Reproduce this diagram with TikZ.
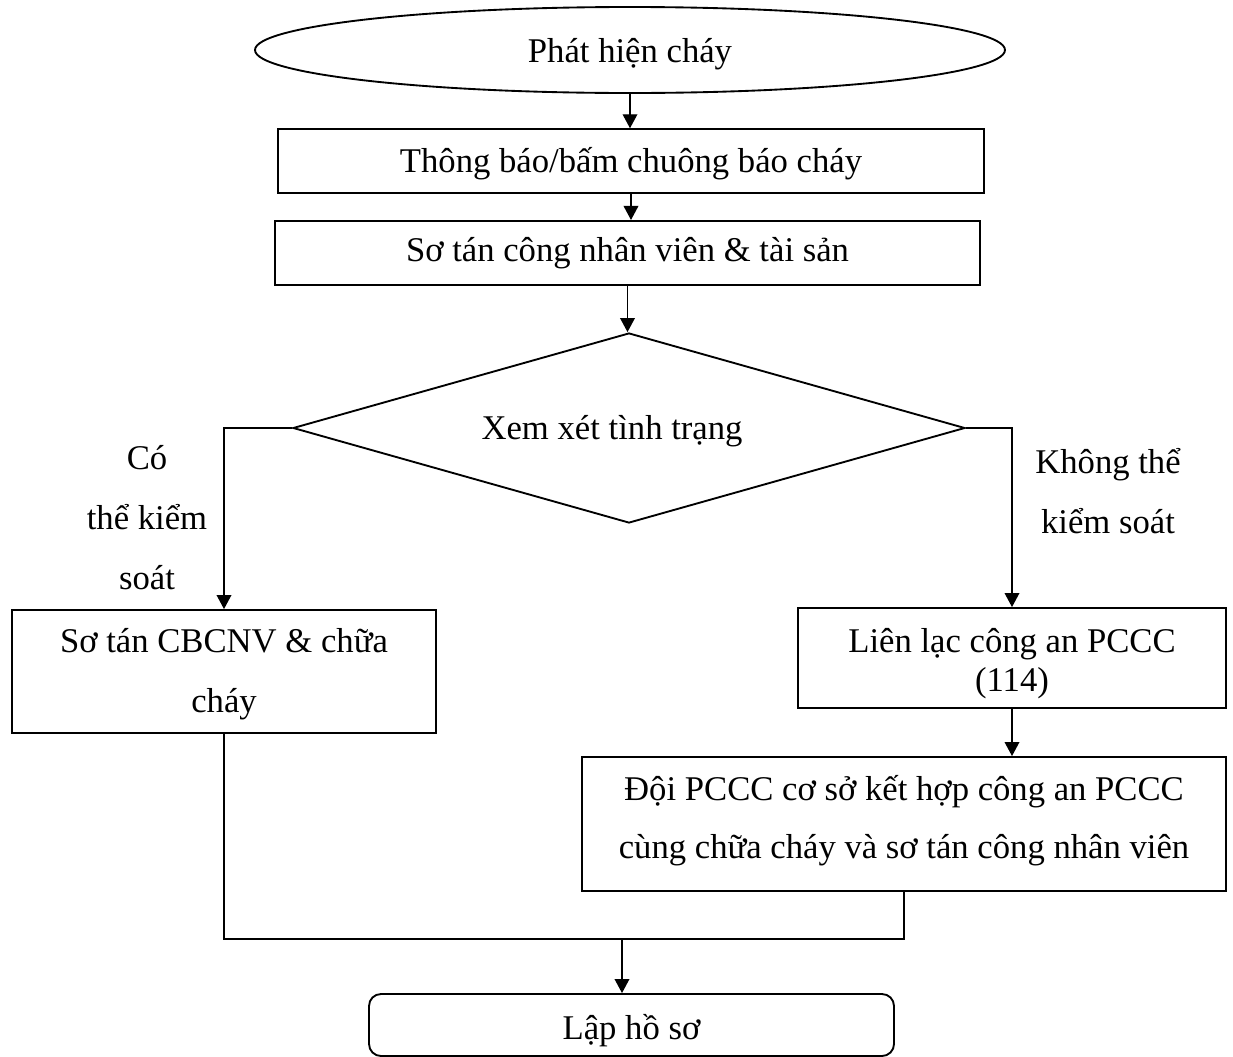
\documentclass[tikz,border=0pt]{standalone}
\usepackage{fontspec}
\setmainfont{Liberation Serif}
\usetikzlibrary{shapes.geometric,arrows.meta}
\newlength\pxu
\setlength\pxu{0.75pt}
% invisible struts fixing the top of the first line and the bottom of the last line
\newcommand\tophold{\rule{0pt}{26pt}}
\newcommand\bothold[1][8pt]{\rule[-#1]{0pt}{#1}}
\begin{document}
\begin{tikzpicture}[x=0.75pt,y=-0.75pt,
  every node/.style={font=\fontsize{26pt}{45pt}\selectfont, inner sep=0pt},
  outline/.style={draw, line width=1.4pt},
  procbox/.style={outline, rectangle, align=center},
  oneline/.style={text height=#1, text depth=0pt},
  conn/.style={line width=1pt},
  arr/.style={conn, -{Triangle[length=10.5pt,width=11pt]}},
]
\useasboundingbox (0,0) rectangle (1233,1057);

% process steps
\node[outline, ellipse, minimum width=750\pxu, minimum height=86\pxu, oneline=19pt] (ell) at (630,50) {Phát hiện cháy};
\node[procbox, minimum width=706\pxu, minimum height=64\pxu, oneline=17.2pt] (b1) at (631,161.2) {Thông báo/bấm chuông báo cháy};
\node[procbox, minimum width=705\pxu, minimum height=64\pxu, oneline=13.2pt] (b2) at (627.5,252.9) {Sơ tán công nhân viên \& tài sản};
\node[outline, diamond, aspect=3.5, minimum width=672\pxu, minimum height=190\pxu] (dia) at (629,428) {};
\node[anchor=base] (dtext) at (612,439) {Xem xét tình trạng};
\node[procbox, minimum width=424\pxu, minimum height=123\pxu] (b3) at (224,671.5) {\tophold Sơ tán CBCNV \& chữa\\cháy\bothold[10.25pt]};
\node[procbox, minimum width=428\pxu, minimum height=100\pxu, font=\fontsize{26pt}{29.25pt}\selectfont] (b4) at (1012,658) {\tophold Liên lạc công an PCCC\\(114)\bothold[5.75pt]};
\node[procbox, minimum width=644\pxu, minimum height=134\pxu, font=\fontsize{26pt}{43.5pt}\selectfont] (b5) at (904,824) {\tophold Đội PCCC cơ sở kết hợp công an PCCC\\cùng chữa cháy và sơ tán công nhân viên\bothold[18.5pt]};
\node[outline, rectangle, rounded corners=9pt, minimum width=525\pxu, minimum height=62\pxu, oneline=21pt] (fin) at (631.5,1025) {Lập hồ sơ};

% branch labels
\node[align=center] (lyes) at (147,517) {\tophold Có\\thể kiểm\\soát\bothold};
\node[align=center] (lno) at (1108,491) {\tophold Không thể\\kiểm soát\bothold};

% connectors
\draw[arr] (ell.south) -- (ell.south |- b1.north);
\draw[arr] (b1.south) -- (b1.south |- b2.north);
\draw[arr] (b2.south) -- (b2.south |- dia.north);
\draw[arr] (dia.west) -| (b3.north);
\draw[arr] (dia.east) -| (b4.north);
\draw[arr] (b4.south) -- (b4.south |- b5.north);
\coordinate (jn) at (622,939);
\draw[conn] (b3.south) |- (jn) -| (b5.south);
\draw[arr] (jn) -- (jn |- fin.north);
\end{tikzpicture}
\end{document}
